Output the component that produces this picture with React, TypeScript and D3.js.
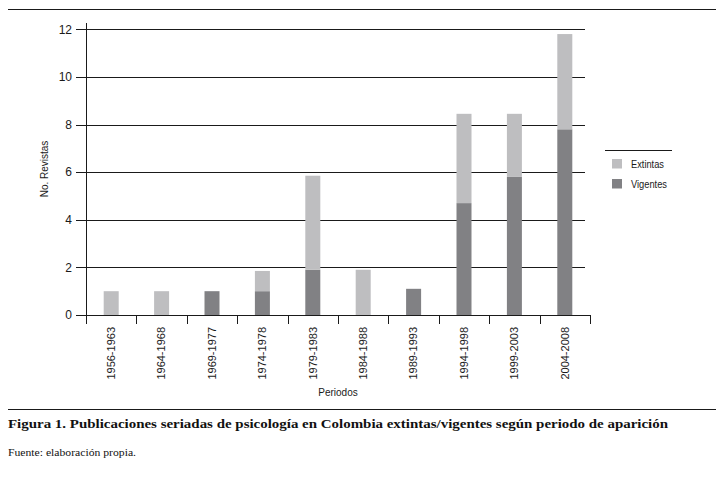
import React from "react";
import * as d3 from "d3";

const categories = ["1956-1963", "1964-1968", "1969-1977", "1974-1978", "1979-1983", "1984-1988", "1989-1993", "1994-1998", "1999-2003", "2004-2008"];
const vigentes = [0, 0, 1, 1, 1.9, 0, 1.1, 4.7, 5.8, 7.8];
const extintas = [1, 1, 0, 0.85, 3.95, 1.9, 0, 3.75, 2.65, 4.0];
const yTicks = [0, 2, 4, 6, 8, 10, 12];
const seriesNames = ["Vigentes", "Extintas"];
const colors: Record<string, string> = { Vigentes: "#818184", Extintas: "#bebec0" };

export default function App() {
  const W = 725, H = 500;
  const x = d3.scaleBand<string>().domain(categories).range([86, 590]).paddingInner(0).paddingOuter(0);
  const y = d3.scaleLinear().domain([0, 12]).range([315, 29.3]);
  const rows = categories.map((c, i) => ({ cat: c, Vigentes: vigentes[i], Extintas: extintas[i] }));
  const stacked = d3.stack<any>().keys(seriesNames)(rows);
  const barW = 15;
  const sans = "'Liberation Sans', Arial, sans-serif";
  const ink = "#1a1a1a";
  const boundaries = [...categories.map((c) => x(c)!), 590];

  return (
    <svg width={W} height={H} style={{ position: "absolute", left: 0, top: 0, background: "#fff" }}>
      <rect x={0} y={0} width={W} height={H} fill="#fff" />
      {/* top rule */}
      <line x1={8} x2={716} y1={9.5} y2={9.5} stroke={ink} strokeWidth={1} />
      {/* gridlines */}
      {yTicks.filter((t) => t > 0).map((t) => (
        <line key={t} x1={86} x2={585} y1={Math.round(y(t)) + 0.5} y2={Math.round(y(t)) + 0.5} stroke={ink} strokeWidth={1} />
      ))}
      {/* y ticks & labels */}
      {yTicks.map((t) => (
        <g key={"yt" + t}>
          <line x1={76} x2={86} y1={Math.round(y(t)) + 0.5} y2={Math.round(y(t)) + 0.5} stroke={ink} strokeWidth={1} />
          <text x={72} y={y(t)} dy="0.35em" textAnchor="end" fontFamily={sans} fontSize={12} fill={ink}>{t}</text>
        </g>
      ))}
      {/* bars */}
      {stacked.map((s) => (
        <g key={s.key} fill={colors[s.key]}>
          {s.map((d, i) => {
            const h = y(d[0]) - y(d[1]);
            if (h <= 0) return null;
            return <rect key={i} x={x(categories[i])! + x.bandwidth() / 2 - barW / 2} y={y(d[1])} width={barW} height={h} />;
          })}
        </g>
      ))}
      {/* axes */}
      <line x1={86.5} x2={86.5} y1={23} y2={324} stroke={ink} strokeWidth={1} />
      <line x1={76} x2={590} y1={Math.round(y(0)) + 0.5} y2={Math.round(y(0)) + 0.5} stroke={ink} strokeWidth={1} />
      {boundaries.map((b, i) => (
        <line key={"xb" + i} x1={Math.round(b) + 0.5} x2={Math.round(b) + 0.5} y1={315} y2={324} stroke={ink} strokeWidth={1} />
      ))}
      {categories.map((c) => (
        <text key={c} transform={`translate(${x(c)! + x.bandwidth() / 2},327) rotate(-90)`} textAnchor="end" dy="0.35em" fontFamily={sans} fontSize={11} fill={ink}>{c}</text>
      ))}
      <text x={338} y={396} textAnchor="middle" fontFamily={sans} fontSize={10} fill={ink}>Periodos</text>
      <text transform="translate(48,169) rotate(-90)" textAnchor="middle" fontFamily={sans} fontSize={10} fill={ink}>No. Revistas</text>
      {/* legend */}
      <line x1={605} x2={672} y1={150.5} y2={150.5} stroke={ink} strokeWidth={1} />
      {["Extintas", "Vigentes"].map((k, i) => (
        <g key={k}>
          <rect x={612} y={159 + i * 20} width={10} height={9.5} fill={colors[k]} />
          <text x={631} y={164 + i * 20} dy="0.35em" fontFamily={sans} fontSize={11} fill={ink} textLength={k === "Extintas" ? 33 : 36} lengthAdjust="spacingAndGlyphs">{k}</text>
        </g>
      ))}
      {/* caption */}
      <line x1={8} x2={716} y1={409.5} y2={409.5} stroke={ink} strokeWidth={1} />
      <text x={8} y={428} fontFamily="'Liberation Serif', 'Times New Roman', serif" fontWeight="bold" fontSize={13.5} fill="#111" textLength={660} lengthAdjust="spacingAndGlyphs">Figura 1. Publicaciones seriadas de psicología en Colombia extintas/vigentes según periodo de aparición</text>
      <text x={8} y={456} fontFamily="'Liberation Serif', 'Times New Roman', serif" fontSize={11} fill="#111" textLength={128} lengthAdjust="spacingAndGlyphs">Fuente: elaboración propia.</text>
    </svg>
  );
}
